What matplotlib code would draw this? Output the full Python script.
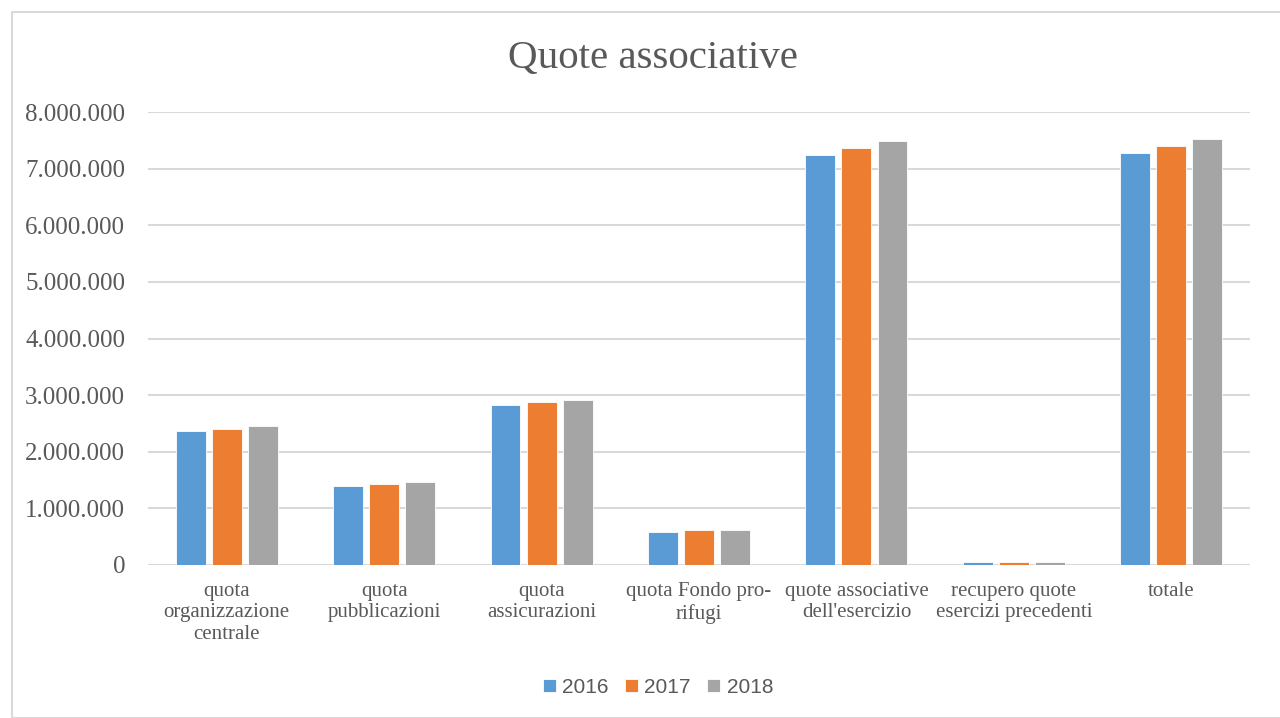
import numpy as np
import matplotlib.pyplot as plt
from matplotlib.patches import Rectangle
from matplotlib.ticker import FuncFormatter

# categories and values
categorie = ["quota\norganizzazione\ncentrale", "quota\npubblicazioni", "quota\nassicurazioni",
             "quota Fondo pro-\nrifugi", "quote associative\ndell'esercizio",
             "recupero quote\nesercizi precedenti", "totale"]
anni = ["2016", "2017", "2018"]
v2016 = [2360000, 1400000, 2830000, 590000, 7240000, 45000, 7270000]
v2017 = [2410000, 1430000, 2870000, 610000, 7360000, 47000, 7400000]
v2018 = [2450000, 1460000, 2920000, 620000, 7485000, 48000, 7520000]
colori = ["#5B9BD5", "#ED7D31", "#A5A5A5"]

fig = plt.figure(figsize=(12.8, 7.18), dpi=100)
ax = fig.add_axes([0.1156, 0.2131, 0.8610, 0.6309])

# chart frame
fig.patches.append(Rectangle((12/1280, 0), 1.0, 1 - 12/718, transform=fig.transFigure,
                             fill=False, edgecolor="#d9d9d9", lw=1.5))

x = np.arange(len(categorie))
w = 0.19
step = 0.229
for i, (vals, lab) in enumerate(zip([v2016, v2017, v2018], anni)):
    ax.bar(x + (i - 1) * step, vals, w, color=colori[i], edgecolor="white", lw=0.6,
           label=lab, zorder=3)

ax.set_xlim(-0.5, len(categorie) - 0.5)
ax.set_ylim(0, 8000000)
ax.set_yticks(np.arange(0, 8000001, 1000000))
ax.yaxis.set_major_formatter(FuncFormatter(lambda v, p: f"{int(v):,}".replace(",", ".")))
ax.grid(axis="y", color="#d9d9d9", lw=1.5, zorder=0)
for s in ax.spines.values():
    s.set_visible(False)
ax.tick_params(length=0)
ax.set_xticks(x)
ax.set_xticklabels(categorie, fontfamily="Liberation Serif", fontsize=15, color="#595959",
                   linespacing=1.2)
ax.tick_params(axis="x", pad=12)
for t in ax.get_yticklabels():
    t.set_fontfamily("Liberation Serif")
    t.set_fontsize(18)
    t.set_color("#595959")
ax.tick_params(axis="y", pad=16.5)

fig.text(0.51, 0.918, "Quote associative", ha="center", va="center",
         fontfamily="Liberation Serif", fontsize=29.5, color="#595959")

leg = fig.legend(loc="center", bbox_to_anchor=(0.514, 0.043), ncol=3, frameon=False,
                 prop={"family": "Liberation Sans", "size": 15}, handlelength=0.62,
                 handleheight=0.62, handletextpad=0.3, columnspacing=0.8)
for t in leg.get_texts():
    t.set_color("#595959")

fig.savefig("out.png", dpi=100)
